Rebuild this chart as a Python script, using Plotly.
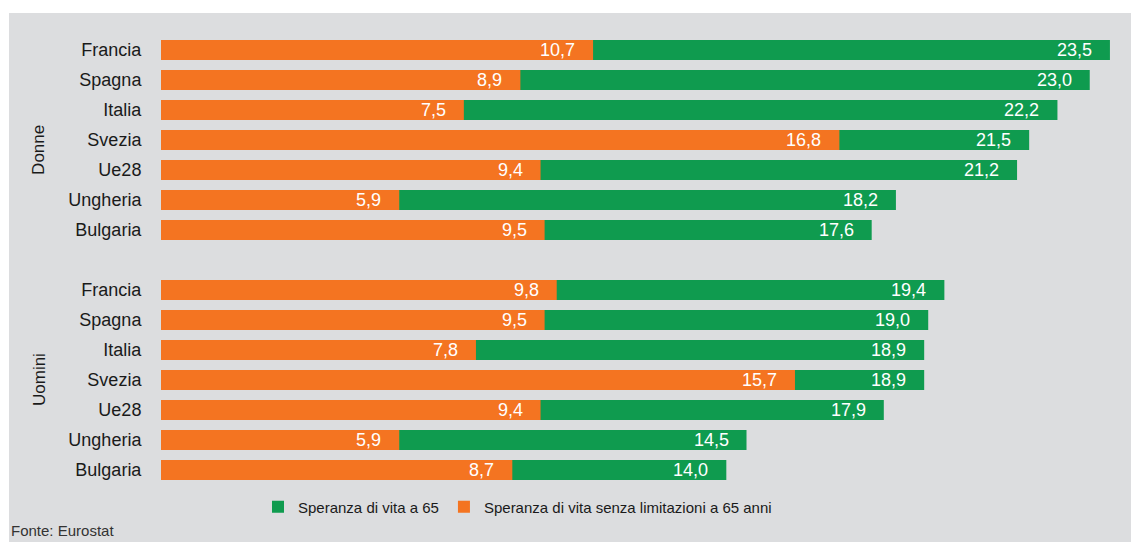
import plotly.graph_objects as go

# ---- data ----
countries = ["Francia", "Spagna", "Italia", "Svezia", "Ue28", "Ungheria", "Bulgaria"]
groups = ["Donne", "Uomini"]
life_exp_women = [23.5, 23.0, 22.2, 21.5, 21.2, 18.2, 17.6]
healthy_women = [10.7, 8.9, 7.5, 16.8, 9.4, 5.9, 9.5]
life_exp_men = [19.4, 19.0, 18.9, 18.9, 17.9, 14.5, 14.0]
healthy_men = [9.8, 9.5, 7.8, 15.7, 9.4, 5.9, 8.7]
series_names = ["Speranza di vita a 65", "Speranza di vita senza limitazioni a 65 anni"]
source = "Fonte: Eurostat"

GREEN = "#0f9b4f"
ORANGE = "#f47421"
BG = "#dcdddf"
FONT = "Liberation Sans, Arial, sans-serif"

n = len(countries)
pos = list(range(n)) + [n + 1 + i for i in range(n)]
labels = countries + countries
total = life_exp_women + life_exp_men
healthy = healthy_women + healthy_men

fmt = lambda v: f"{v:.1f}".replace(".", ",")

fig = go.Figure()
fig.add_trace(go.Bar(y=pos, x=total, orientation="h", name=series_names[0],
                     marker=dict(color=GREEN, line=dict(width=0)), width=0.667,
                     hoverinfo="x+y"))
fig.add_trace(go.Bar(y=pos, x=healthy, orientation="h", name=series_names[1],
                     marker=dict(color=ORANGE, line=dict(width=0)), width=0.667,
                     hoverinfo="x+y"))

ann = []
for p, v in zip(pos, total):
    ann.append(dict(x=v, y=p, xref="x", yref="y", text=fmt(v), showarrow=False,
                    xanchor="right", yanchor="middle", xshift=-16,
                    font=dict(family=FONT, size=18, color="white")))
for p, v in zip(pos, healthy):
    ann.append(dict(x=v, y=p, xref="x", yref="y", text=fmt(v), showarrow=False,
                    xanchor="right", yanchor="middle", xshift=-16,
                    font=dict(family=FONT, size=18, color="white")))

W, H = 1131, 542
L, T, B = 161, 35, 57
PW, PH = W - L, H - T - B

def px_x(x):
    return (x - L) / PW

def px_y(y):
    return (H - B - y) / PH

ann.append(dict(x=px_x(39), y=(n - 1) / 2 + 0.33, xref="paper", yref="y", text=groups[0],
                textangle=-90, showarrow=False, xanchor="center", yanchor="middle",
                font=dict(family=FONT, size=17, color="#1a1a1a")))
ann.append(dict(x=px_x(39), y=n + 1 + (n - 1) / 2, xref="paper", yref="y", text=groups[1],
                textangle=-90, showarrow=False, xanchor="center", yanchor="middle",
                font=dict(family=FONT, size=17, color="#1a1a1a")))
ann.append(dict(x=px_x(9), y=px_y(530), xref="paper", yref="paper", text=source,
                showarrow=False, xanchor="left", yanchor="middle",
                font=dict(family=FONT, size=15, color="#333333")))

fig.update_layout(
    width=W, height=H,
    margin=dict(l=L, r=0, t=T, b=B, pad=0),
    paper_bgcolor="white", plot_bgcolor=BG,
    barmode="overlay",
    showlegend=True,
    legend=dict(orientation="h", x=px_x(258), xanchor="left", y=px_y(507), yanchor="middle",
                font=dict(family=FONT, size=15, color="#1a1a1a"),
                bgcolor="rgba(0,0,0,0)", traceorder="normal"),
    xaxis=dict(range=[0, 970 / 40.38], showgrid=False, zeroline=False, showticklabels=False,
               showline=False, fixedrange=True),
    yaxis=dict(range=[2 * n + 0.5, -0.5], tickvals=pos, ticktext=labels,
               showgrid=False, zeroline=False, showline=False,
               ticks="outside", ticklen=15, tickcolor="rgba(0,0,0,0)",
               tickfont=dict(family=FONT, size=18, color="#1a1a1a"), fixedrange=True),
    annotations=ann,
    shapes=[dict(type="rect", xref="paper", yref="paper", x0=px_x(9), x1=1.0,
                 y0=px_y(H), y1=px_y(13), fillcolor=BG, line=dict(width=0), layer="below")],
)

fig.write_html("out.html", config={"displayModeBar": False},
               post_script="document.body.style.margin='0';")
